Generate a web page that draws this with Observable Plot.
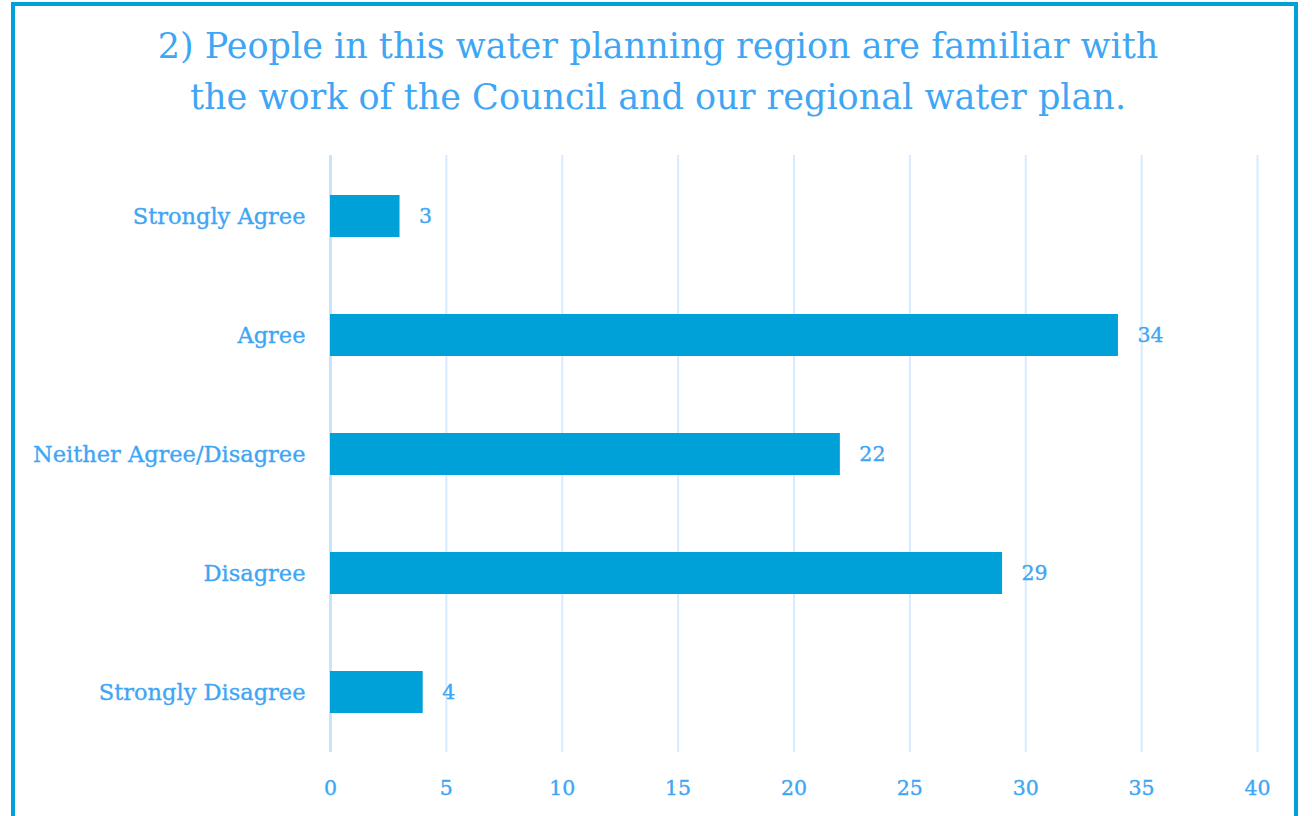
<!DOCTYPE html>
<html>
<head>
<meta charset="utf-8">
<script src="https://cdn.jsdelivr.net/npm/d3@7"></script>
<script src="https://cdn.jsdelivr.net/npm/@observablehq/plot@0.6"></script>
<style>
  html, body { margin: 0; padding: 0; background: #fff; width: 1312px; height: 816px; overflow: hidden; }
  #wrap { position: relative; width: 1312px; height: 816px; }
  #frame { position: absolute; left: 11px; top: 2px; width: 1287px; height: 830px; border: 4px solid #00a0d8; box-sizing: border-box; }
  #title { position: absolute; left: 0; top: 21px; width: 1316px; text-align: center; color: #3ea6f4;
           font-family: "DejaVu Serif", serif; font-size: 35px; line-height: 51px; }
  #chart { position: absolute; left: 0; top: 0; }
  #chart svg { font-family: "DejaVu Serif", serif; }
  #chart svg text { stroke: #3ea6f4; stroke-width: 0.35px; }
</style>
</head>
<body>
<div id="wrap">
  <div id="frame"></div>
  <div id="chart"></div>
  <div id="title">2) People in this water planning region are familiar with<br>the work of the Council and our regional water plan.</div>
</div>
<script>
const categories = ["Strongly Agree", "Agree", "Neither Agree/Disagree", "Disagree", "Strongly Disagree"];
const values = [3, 34, 22, 29, 4];
const xTicks = [0, 5, 10, 15, 20, 25, 30, 35, 40];

const data = categories.map((c, i) => ({category: c, value: values[i]}));
const textColor = "#3ea6f4";

const chart = Plot.plot({
  width: 1312,
  height: 816,
  marginLeft: 330,
  marginRight: 55,
  marginTop: 155,
  marginBottom: 64,
  style: {background: "transparent", color: textColor},
  x: {domain: [0, 40], ticks: xTicks, label: null},
  y: {domain: categories, paddingInner: 0.65, paddingOuter: 0.325, label: null},
  marks: [
    Plot.gridX(xTicks, {stroke: "#d6ebff", strokeWidth: 2, strokeOpacity: 1}),
    Plot.ruleX([0], {stroke: "#c8e3fc", strokeWidth: 3}),
    Plot.barX(data, {x: "value", y: "category", fill: "#00a0d8"}),
    Plot.text(data, {x: "value", y: "category", text: d => String(d.value), textAnchor: "start", dx: 19, fill: textColor, fontSize: 20.5}),
    Plot.axisX({ticks: xTicks, tickSize: 0, tickPadding: 28, fontSize: 20.5, fill: textColor}),
    Plot.axisY({tickSize: 0, tickPadding: 25, fontSize: 22.5, fill: textColor})
  ]
});
document.getElementById("chart").appendChild(chart);
</script>
</body>
</html>
